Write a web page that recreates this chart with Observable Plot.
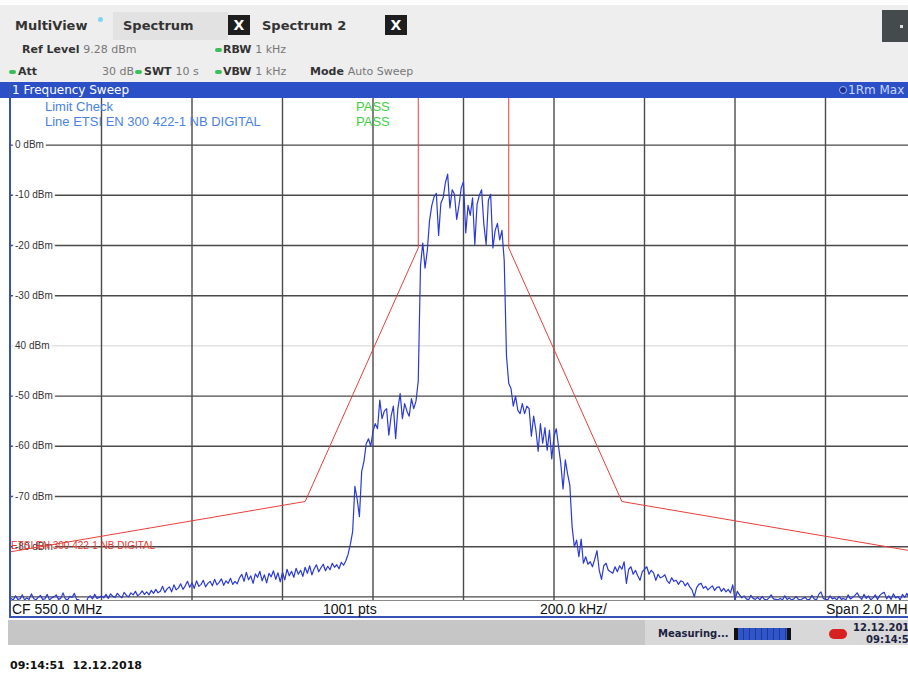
<!DOCTYPE html>
<html><head><meta charset="utf-8">
<script src="https://cdn.jsdelivr.net/npm/d3@7"></script>
<script src="https://cdn.jsdelivr.net/npm/@observablehq/plot@0.6"></script>
<style>
html,body{margin:0;padding:0;width:908px;height:677px;overflow:hidden;background:#fff;}
#root{position:relative;width:908px;height:677px;overflow:hidden;font-family:"DejaVu Sans",sans-serif;}
.a{position:absolute;white-space:nowrap;}
.b{font-weight:bold;}
.hdr{font-size:13px;font-weight:bold;color:#333;line-height:16px;}
.r2{font-size:11px;line-height:14px;color:#333;}
.g{color:#777;font-weight:normal;}
.dot{position:absolute;width:7px;height:4px;border-radius:2px;background:#3cbf5a;}
.xb{position:absolute;width:22px;height:20px;background:#1e1e1e;color:#fff;font:bold 14px "DejaVu Sans";text-align:center;line-height:20px;}
.ls{font-family:"Liberation Sans",Arial,sans-serif;}
#chart{position:absolute;left:0;top:98px;}
</style></head>
<body><div id="root">
<div class="a" style="left:0;top:5px;width:908px;height:77px;background:#eeeeee"></div>
<div class="a" style="left:113px;top:12px;width:115px;height:28px;background:#e2e2e2"></div>
<div class="a hdr" style="left:15px;top:18px">MultiView</div>
<div class="a" style="left:98px;top:17px;width:5px;height:5px;border-radius:3px;background:#7fd4f2"></div>
<div class="a hdr" style="left:123px;top:18px">Spectrum</div>
<div class="xb" style="left:228px;top:15px">X</div>
<div class="a hdr" style="left:262px;top:18px">Spectrum 2</div>
<div class="xb" style="left:385px;top:15px">X</div>
<div class="a" style="left:882px;top:10px;width:26px;height:32px;background:#454a4d"></div>
<div class="a" style="left:900px;top:25px;width:3px;height:3px;background:#ddd"></div>

<div class="a r2 b" style="left:22px;top:43px">Ref Level <span class="g">9.28 dBm</span></div>
<div class="dot" style="left:215px;top:48px"></div>
<div class="a r2 b" style="left:223px;top:43px">RBW <span class="g">1 kHz</span></div>

<div class="dot" style="left:9px;top:70px"></div>
<div class="a r2 b" style="left:18px;top:65px">Att</div>
<div class="a r2 g" style="left:102px;top:65px">30 dB</div>
<div class="dot" style="left:135px;top:70px"></div>
<div class="a r2 b" style="left:144px;top:65px">SWT <span class="g">10 s</span></div>
<div class="dot" style="left:215px;top:70px"></div>
<div class="a r2 b" style="left:223px;top:65px">VBW <span class="g">1 kHz</span></div>
<div class="a r2 b" style="left:310px;top:65px">Mode <span class="g">Auto Sweep</span></div>

<div class="a" style="left:0;top:82px;width:908px;height:16px;background:#2b4fc6"></div>
<div class="a" style="left:12px;top:82px;font-size:12px;line-height:16px;color:#fff">1 Frequency Sweep</div>
<div class="a" style="left:839px;top:86px;width:6px;height:6px;border-radius:4px;background:#1b2f8a;border:1px solid #9fb4ff"></div>
<div class="a" style="left:848px;top:82px;font-size:12px;line-height:16px;color:#c9d5ff">1Rm Max</div>

<div id="chart"></div>

<div class="a ls" style="left:45px;top:99px;font-size:13px;line-height:16px;color:#4a82e2">Limit Check</div>
<div class="a ls" style="left:45px;top:114px;font-size:13px;line-height:16px;color:#4a82e2">Line ETSI EN 300 422-1 NB DIGITAL</div>
<div class="a ls" style="left:356px;top:99px;font-size:13px;line-height:16px;color:#3fd03f">PASS</div>
<div class="a ls" style="left:356px;top:114px;font-size:13px;line-height:16px;color:#3fd03f">PASS</div>

<div class="a" style="left:10px;top:600px;width:898px;height:1px;background:#8a8a8a"></div>
<div class="a" style="left:9px;top:82px;width:2px;height:536px;background:#3552b4"></div>
<div class="a" style="left:9px;top:616px;width:899px;height:2px;background:#3552b4"></div>
<div class="a ls" style="left:12px;top:601px;font-size:14px;line-height:16px;color:#111">CF 550.0 MHz</div>
<div class="a ls" style="left:323px;top:601px;font-size:14px;line-height:16px;color:#111">1001 pts</div>
<div class="a ls" style="left:540px;top:601px;font-size:14px;line-height:16px;color:#111">200.0 kHz/</div>
<div class="a ls" style="left:826px;top:601px;font-size:14px;line-height:16px;color:#111">Span 2.0 MHz</div>

<div class="a" style="left:8px;top:620px;width:637px;height:25px;background:#c6c6c6"></div>
<div class="a" style="left:645px;top:620px;width:263px;height:25px;background:#d8d8d8"></div>
<div class="a b" style="left:658px;top:627px;font-size:10px;line-height:14px;color:#1c2340">Measuring...</div>
<div class="a" style="left:734px;top:628px;width:57px;height:12px;background:repeating-linear-gradient(90deg,#2f55c8 0 5px,#1d3a9a 5px 6px);border-left:4px solid #111;border-right:4px solid #111;box-sizing:border-box"></div>
<div class="a" style="left:829px;top:629px;width:18px;height:10px;border-radius:5px;background:#d92020"></div>
<div class="a b" style="left:853px;top:621px;font-size:10px;line-height:13px;color:#1c2340">12.12.2018</div>
<div class="a b" style="left:866px;top:633px;font-size:10px;line-height:13px;color:#1c2340">09:14:51</div>

<div class="a b" style="left:10px;top:658px;font-size:11px;line-height:15px;color:#111">09:14:51&nbsp; 12.12.2018</div>
</div>
<script>
// ---- data ----
const centerMHz = 550.0;
const spanMHz = 2.0;
const refLevel = 9.28;
const rangeDb = 100;
const freqGrid = [549.2, 549.4, 549.6, 549.8, 550.0, 550.2, 550.4, 550.6, 550.8];
const levelGrid = [0, -10, -20, -30, -50, -60, -70, -80, -90];
const faintGrid = [-40];
const levelTicks = [0, -10, -20, -30, -40, -50, -60, -70, -80];
const levelTickLabels = ["0 dBm", "-10 dBm", "-20 dBm", "-30 dBm", "40 dBm", "-50 dBm", "-60 dBm", "-70 dBm", "-80 dBm"];
const limitFreqs = [549.0, 549.65, 549.9, 549.9, 550.1, 550.1, 550.35, 551.0];
const limitLevels = [-81, -71, -20.5, 30, 30, -20.5, -71, -81];
const limitName = "ETSI EN 300 422-1 NB DIGITAL";
const traceStart = 549.0;
const traceStep = 0.005;
const traceLevels = [
-90.3,-90.6,-89.8,-90.5,-90.4,-89.6,-90.6,-90.2,-90.5,-89.4,-90.3,-90.6,-90.1,-89.7,-90.5,-90.4,-89.5,-90.6,-90.2,-90.0,
-89.6,-90.5,-90.3,-89.2,-90.4,-90.6,-89.9,-90.1,-89.3,-90.5,-90.6,-91.2,-91.0,-91.3,-90.2,-89.8,-90.4,-89.5,-90.3,-90.1,
-89.8,-90.2,-89.5,-90.3,-89.4,-89.9,-90.1,-89.3,-89.8,-90.2,-89.1,-89.7,-90.0,-89.2,-89.6,-88.9,-89.8,-89.4,-88.8,-89.5,
-89.0,-89.6,-88.7,-89.3,-88.5,-89.2,-88.9,-87.9,-89.1,-88.4,-88.0,-89.0,-87.6,-88.6,-88.2,-87.4,-88.5,-87.8,-86.9,-88.1,
-87.2,-88.3,-86.8,-87.9,-87.5,-86.7,-88.0,-87.3,-86.9,-87.8,-86.5,-87.6,-87.1,-86.4,-87.7,-86.8,-87.3,-86.3,-87.5,-86.9,
-87.4,-86.2,-85.5,-86.9,-85.1,-86.6,-85.8,-87.3,-85.4,-86.1,-84.9,-86.8,-85.6,-87.2,-85.3,-86.0,-84.8,-86.5,-85.2,-87.0,
-85.1,-86.6,-84.5,-85.8,-84.9,-86.1,-84.3,-85.5,-84.7,-85.9,-84.1,-85.3,-83.8,-85.6,-84.4,-83.6,-85.0,-84.2,-83.5,-84.8,
-83.9,-84.6,-83.3,-84.1,-83.6,-84.4,-83.1,-83.7,-82.8,-81.5,-79.5,-77.0,-68.0,-70.5,-74.0,-65.0,-63.0,-59.5,-58.5,-60.0,
-57.0,-55.5,-56.5,-50.8,-54.5,-53.0,-52.5,-57.8,-54.0,-52.0,-58.5,-52.5,-49.5,-54.5,-51.5,-53.0,-54.0,-50.5,-52.5,-51.0,
-47.0,-24.0,-19.5,-24.5,-21.0,-15.0,-12.0,-10.3,-9.6,-18.0,-11.6,-10.5,-7.5,-5.8,-12.5,-8.9,-9.8,-14.8,-12.0,-8.5,
-7.3,-17.5,-12.0,-14.0,-10.5,-19.8,-11.8,-10.0,-8.9,-15.8,-19.8,-11.0,-9.8,-20.5,-17.0,-15.6,-18.9,-17.0,-23.0,-42.0,
-47.5,-48.5,-52.0,-50.0,-52.8,-53.5,-51.5,-53.5,-52.0,-52.5,-58.0,-54.0,-56.8,-61.0,-55.5,-59.4,-56.3,-60.8,-56.8,-62.5,
-58.0,-56.5,-60.0,-63.4,-68.5,-62.7,-65.5,-67.8,-76.0,-80.0,-78.7,-82.0,-78.5,-83.3,-82.0,-83.5,-83.0,-84.0,-82.5,-80.8,
-84.7,-86.5,-83.8,-83.3,-84.7,-85.0,-85.3,-84.0,-85.0,-83.8,-84.5,-83.0,-87.3,-84.5,-84.0,-85.5,-84.7,-85.8,-86.7,-85.0,
-84.5,-84.0,-85.5,-84.7,-85.2,-86.7,-85.5,-86.2,-86.0,-85.6,-86.8,-87.3,-86.2,-86.9,-86.7,-87.5,-86.8,-87.0,-87.8,-87.2,
-88.0,-88.6,-90.0,-88.2,-87.5,-87.3,-88.3,-87.9,-88.6,-88.2,-87.8,-88.7,-88.1,-88.0,-88.9,-88.3,-89.0,-88.5,-89.2,-87.6,
-90.6,-88.9,-89.6,-90.2,-89.8,-90.4,-90.6,-89.7,-90.3,-90.5,-90.1,-90.6,-89.9,-90.5,-90.6,-90.2,-89.6,-90.4,-90.5,-90.6,
-90.3,-90.6,-89.8,-90.5,-90.2,-90.6,-90.4,-89.9,-90.5,-90.6,-90.3,-90.1,-90.6,-90.5,-89.7,-90.4,-90.6,-89.5,-89.0,-90.3,
-90.5,-90.6,-89.8,-90.4,-90.2,-90.6,-89.9,-90.5,-90.3,-90.6,-89.6,-90.4,-90.1,-89.7,-89.2,-90.0,-90.5,-89.5,-90.3,-89.8,
-90.6,-90.2,-89.6,-90.5,-89.7,-89.3,-89.1,-90.4,-89.8,-90.5,-89.4,-90.2,-89.9,-90.6,-89.5,-90.1,-89.3,-90.4,-89.8,-90.2,
-90.5
];
// ---- build ----
const trace = traceLevels.map((v, i) => ({f: traceStart + i * traceStep, v}));
const limit = limitFreqs.map((f, i) => ({f, v: limitLevels[i]}));
const fMin = centerMHz - spanMHz / 2, fMax = centerMHz + spanMHz / 2;
const chart = Plot.plot({
  width: 926, height: 502,
  marginTop: 0, marginBottom: 0, marginLeft: 10.5, marginRight: 10.5,
  x: {domain: [fMin, fMax], axis: null},
  y: {domain: [refLevel - rangeDb, refLevel], axis: null},
  style: {background: "transparent", maxWidth: "none", overflow: "hidden", fontFamily: "Liberation Sans, Arial, sans-serif"},
  marks: [
    Plot.ruleY(faintGrid, {stroke: "#d4d4d4", strokeWidth: 1}),
    Plot.ruleY(levelGrid, {stroke: "#4a4a4a", strokeWidth: 1.4}),
    Plot.ruleX(freqGrid, {stroke: "#4a4a4a", strokeWidth: 1.4}),
    Plot.text(levelTicks, {x: fMin, y: d => d, text: (d, i) => levelTickLabels[i], dx: 4, textAnchor: "start",
      fill: "#333", stroke: "white", strokeWidth: 5, fontSize: 10}),
    Plot.line(limit, {x: "f", y: "v", stroke: "#e8403a", strokeWidth: 1, clip: true}),
    Plot.text([limitName], {x: fMin, y: -80, text: d => d, dx: 0, dy: -1, textAnchor: "start", fill: "#e43a32", fontSize: 10}),
    Plot.line(trace, {x: "f", y: "v", stroke: "#2a3ad8", strokeWidth: 1.2, clip: true})
  ]
});
document.getElementById("chart").appendChild(chart);
</script>
</body></html>
